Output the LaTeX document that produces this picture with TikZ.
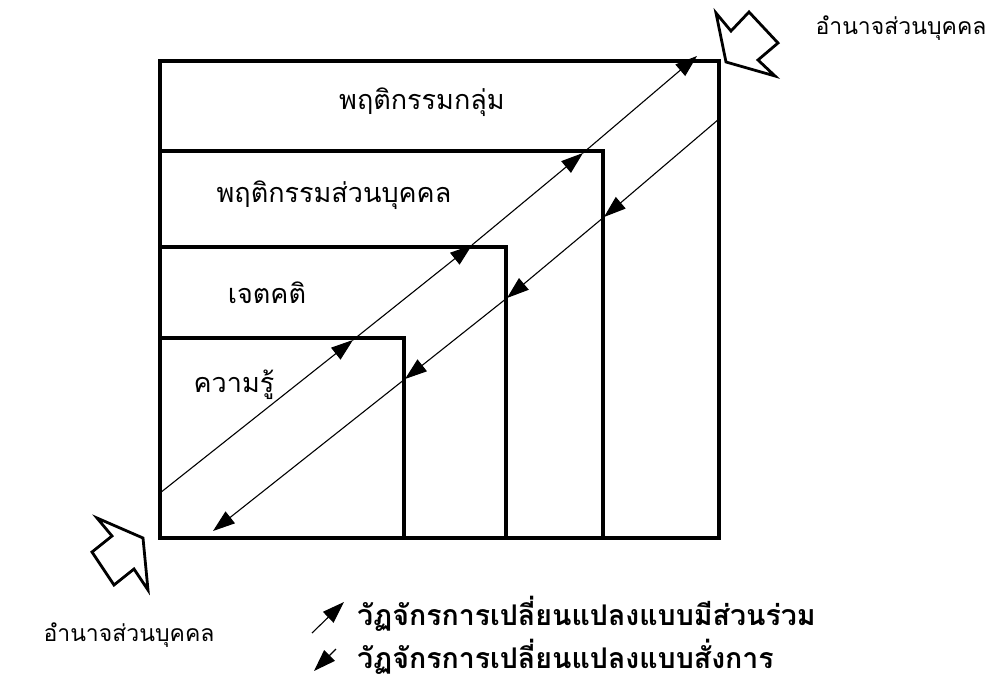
\documentclass[tikz,border=0pt]{standalone}
\usepackage{fontspec}
\newfontfamily\thai[Script=Thai]{Loma}
\usetikzlibrary{arrows.meta}
\tikzset{
  boxline/.style={line width=3.2pt, line join=miter},
  flowline/.style={line width=1.1pt, -{Triangle[length=22pt,width=15pt]}},
  blockarrow/.style={line width=2.8pt, line join=miter, fill=white},
  lbl/.style={font=\thai\fontsize{27}{32}\selectfont, inner sep=0pt},
  side/.style={font=\thai\fontsize{23}{27}\selectfont, inner sep=0pt},
  legend/.style={font=\thai\bfseries\fontsize{28.5}{33}\selectfont, inner sep=0pt, anchor=west},
}
\begin{document}
\begin{tikzpicture}[x=1pt,y=-1pt]
\useasboundingbox (0,0) rectangle (986,693);
% boxes
\draw[boxline] (160,61) rectangle (719,538);
\draw[boxline] (160,151) -- (603,151) -- (603,538);
\draw[boxline] (160,247) -- (506,247) -- (506,538);
\draw[boxline] (160,338) -- (404,338) -- (404,538);
% labels
\node[lbl] (g) at (422,102) {พฤติกรรมกลุ่ม};
\node[lbl] (p) at (334,195) {พฤติกรรมส่วนบุคคล};
\node[lbl] (a) at (267,293) {เจตคติ};
\node[lbl] (k) at (234,385) {ความรู้};
% participatory line (up)
\coordinate (u0) at (160,493);
\coordinate (u1) at (353,340);
\coordinate (u2) at (472,245);
\coordinate (u3) at (583,153);
\coordinate (u4) at (697,56);
\draw[flowline] (u0) -- (u1);
\draw[flowline] (u1) -- (u2);
\draw[flowline] (u2) -- (u3);
\draw[flowline] (u3) -- (u4);
% command line (down)
\coordinate (d0) at (719,119);
\coordinate (d1) at (604,217);
\coordinate (d2) at (507,298);
\coordinate (d3) at (405,379);
\coordinate (d4) at (213,531);
\draw[flowline] (d0) -- (d1);
\draw[flowline] (d1) -- (d2);
\draw[flowline] (d2) -- (d3);
\draw[flowline] (d3) -- (d4);
% block arrows
\draw[blockarrow] (716,13) -- (731,31) -- (749,12) -- (778,43) -- (758,60) -- (775,76) -- (726,62) -- cycle;
\draw[blockarrow] (97,518) -- (143,538) -- (148,590) -- (134,569) -- (114,585) -- (92,552) -- (112,536) -- cycle;
\node[side] (tr) at (901,28) {อำนาจส่วนบุคคล};
\node[side] (bl) at (129,635) {อำนาจส่วนบุคคล};
% legend
\coordinate (l1a) at (312,633);
\coordinate (l1b) at (344,602);
\coordinate (l2a) at (336,649);
\coordinate (l2b) at (314,671);
\draw[flowline] (l1a) -- (l1b);
\draw[flowline] (l2a) -- (l2b);
\node[legend] (t1) at (357,614) {วัฏจักรการเปลี่ยนแปลงแบบมีส่วนร่วม};
\node[legend] (t2) at (357,657) {วัฏจักรการเปลี่ยนแปลงแบบสั่งการ};
\end{tikzpicture}
\end{document}
